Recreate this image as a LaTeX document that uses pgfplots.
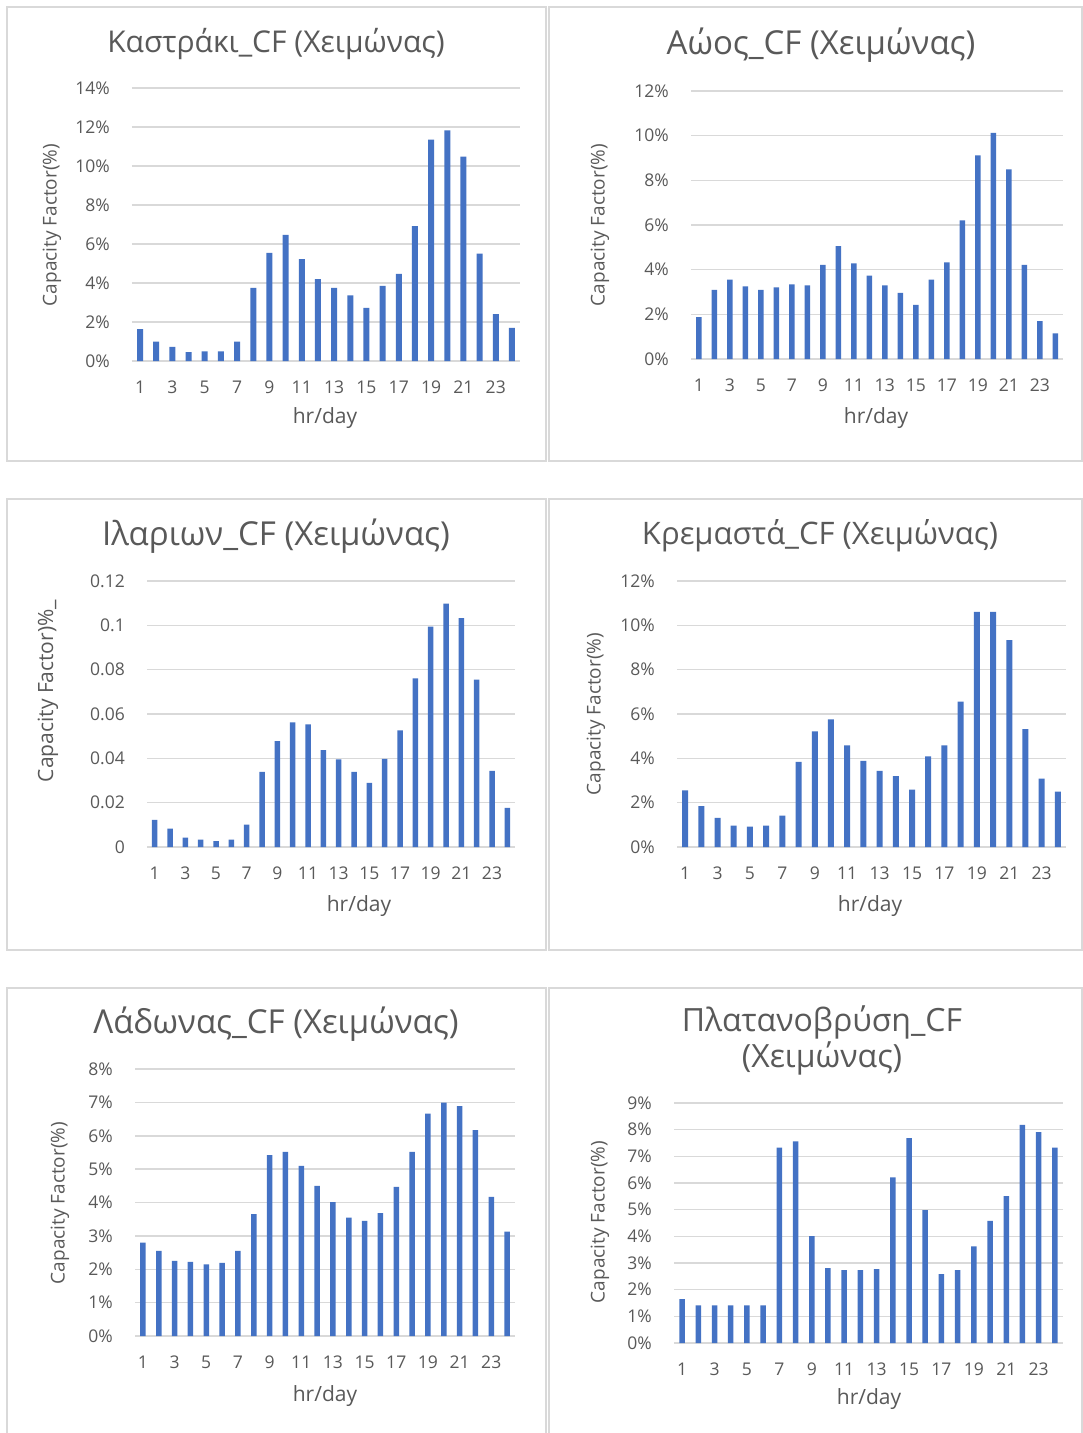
\documentclass[border=0pt]{standalone}
\usepackage{fontspec}
\setmainfont{Open Sans}
\usepackage{pgfplots}
\pgfplotsset{compat=1.18}

\definecolor{barblue}{HTML}{4472C4}
\definecolor{gridgray}{HTML}{D9D9D9}
\definecolor{txtgray}{HTML}{595959}

\newcommand{\titlefont}[1]{\fontsize{#1}{36}\selectfont}
\newcommand{\labelfont}{\fontsize{19}{22}\selectfont}
\newcommand{\hrfont}{\fontsize{21}{24}\selectfont}

\pgfplotsset{
  cf/.style={
    scale only axis,
    anchor=south west,
    ybar,
    bar width=6pt,
    xmin=0.5, xmax=24.5, ymin=0,
    enlargelimits=false,
    axis line style={draw=none},
    ymajorgrids,
    grid style={gridgray, line width=1.5pt},
    major tick length=0pt,
    xtick={1,3,...,23},
    xticklabels={1,3,5,7,9,11,13,15,17,19,21,23},
    tick label style={font=\fontsize{17.5}{20}\selectfont, text=txtgray},
    yticklabel style={inner sep=0pt, anchor=east, xshift=-22pt},
    xticklabel style={inner sep=0pt, anchor=center, yshift=-26pt},
    /pgf/number format/assume math mode=true,
    clip=false,
  },
  cfbar/.style={fill=barblue, draw=none},
}

\begin{document}
\begin{tikzpicture}[x=1pt,y=1pt]
\useasboundingbox (0,0) rectangle (1083,-1433);
\fill[white] (0,0) rectangle (1083,-1433);

% panel frames
\begin{scope}[draw=gridgray, line width=2pt]
  \draw (7,-7) rectangle (546,-461);
  \draw (549,-7) rectangle (1082,-461);
  \draw (7,-499) rectangle (546,-950);
  \draw (549,-499) rectangle (1082,-950);
  \draw (7,-1460) -- (7,-988) -- (546,-988) -- (546,-1460);
  \draw (549,-1460) -- (549,-988) -- (1082,-988) -- (1082,-1460);
\end{scope}

% Kastraki
\begin{axis}[cf, at={(132pt,-361pt)}, width=388pt, height=273pt,
  ymax=14, ytick={0,2,...,14},
  yticklabels={0\%,2\%,4\%,6\%,8\%,10\%,12\%,14\%}]
\addplot[cfbar] coordinates {
 (1,1.64) (2,0.99) (3,0.72) (4,0.45) (5,0.50) (6,0.50) (7,0.99) (8,3.75)
 (9,5.55) (10,6.47) (11,5.22) (12,4.20) (13,3.75) (14,3.37) (15,2.72) (16,3.85)
 (17,4.47) (18,6.92) (19,11.35) (20,11.83) (21,10.48) (22,5.51) (23,2.40) (24,1.70)};
\end{axis}

% Aoos
\begin{axis}[cf, at={(691pt,-359pt)}, width=372pt, height=268pt, bar width=5.5pt,
  ymax=12, ytick={0,2,...,12},
  yticklabels={0\%,2\%,4\%,6\%,8\%,10\%,12\%}]
\addplot[cfbar] coordinates {
 (1,1.88) (2,3.10) (3,3.55) (4,3.25) (5,3.10) (6,3.21) (7,3.34) (8,3.30)
 (9,4.22) (10,5.06) (11,4.28) (12,3.73) (13,3.30) (14,2.96) (15,2.42) (16,3.55)
 (17,4.33) (18,6.21) (19,9.12) (20,10.12) (21,8.49) (22,4.22) (23,1.70) (24,1.15)};
\end{axis}

% Ilarion
\begin{axis}[cf, at={(147pt,-847pt)}, width=368pt, height=266pt, bar width=5.5pt,
  ymax=0.12, ytick={0,0.02,0.04,0.06,0.08,0.10,0.12},
  yticklabels={0,0.02,0.04,0.06,0.08,0.1,0.12}]
\addplot[cfbar] coordinates {
 (1,0.0122) (2,0.0083) (3,0.0042) (4,0.0033) (5,0.0027) (6,0.0033) (7,0.0101) (8,0.0339)
 (9,0.0478) (10,0.0562) (11,0.0553) (12,0.0437) (13,0.0395) (14,0.0339) (15,0.0289) (16,0.0398)
 (17,0.0526) (18,0.0761) (19,0.0994) (20,0.1098) (21,0.1033) (22,0.0755) (23,0.0344) (24,0.0176)};
\end{axis}

% Kremasta
\begin{axis}[cf, at={(677pt,-847pt)}, width=389pt, height=266pt,
  ymax=12, ytick={0,2,...,12},
  yticklabels={0\%,2\%,4\%,6\%,8\%,10\%,12\%}]
\addplot[cfbar] coordinates {
 (1,2.55) (2,1.85) (3,1.31) (4,0.96) (5,0.92) (6,0.96) (7,1.42) (8,3.84)
 (9,5.22) (10,5.76) (11,4.58) (12,3.89) (13,3.44) (14,3.20) (15,2.59) (16,4.09)
 (17,4.58) (18,6.56) (19,10.61) (20,10.61) (21,9.33) (22,5.32) (23,3.09) (24,2.50)};
\end{axis}

% Ladonas
\begin{axis}[cf, at={(135pt,-1336pt)}, width=380pt, height=267pt, bar width=5.5pt,
  ymax=8, ytick={0,1,...,8},
  yticklabels={0\%,1\%,2\%,3\%,4\%,5\%,6\%,7\%,8\%}]
\addplot[cfbar] coordinates {
 (1,2.80) (2,2.55) (3,2.25) (4,2.22) (5,2.15) (6,2.19) (7,2.55) (8,3.65)
 (9,5.42) (10,5.52) (11,5.10) (12,4.50) (13,4.01) (14,3.55) (15,3.45) (16,3.68)
 (17,4.47) (18,5.52) (19,6.66) (20,6.99) (21,6.89) (22,6.17) (23,4.17) (24,3.13)};
\end{axis}

% Platanovrysi
\begin{axis}[cf, at={(674pt,-1343pt)}, width=389pt, height=240pt, bar width=5.5pt,
  ymax=9, ytick={0,1,...,9},
  yticklabels={0\%,1\%,2\%,3\%,4\%,5\%,6\%,7\%,8\%,9\%}]
\addplot[cfbar] coordinates {
 (1,1.65) (2,1.41) (3,1.41) (4,1.41) (5,1.41) (6,1.41) (7,7.33) (8,7.56)
 (9,4.01) (10,2.81) (11,2.73) (12,2.73) (13,2.77) (14,6.21) (15,7.68) (16,4.98)
 (17,2.58) (18,2.73) (19,3.62) (20,4.58) (21,5.51) (22,8.18) (23,7.91) (24,7.33)};
\end{axis}

% titles and axis titles
\begin{scope}[every node/.style={text=txtgray, inner sep=0pt}]
  \node[font=\titlefont{30}] at (276,-44) {Καστράκι\_CF (Χειμώνας)};
  \node[font=\titlefont{33}] at (821,-45) {Αώος\_CF (Χειμώνας)};
  \node[font=\titlefont{33}] at (276,-536) {Ιλαριων\_CF (Χειμώνας)};
  \node[font=\titlefont{31}] at (820,-536) {Κρεμαστά\_CF (Χειμώνας)};
  \node[font=\titlefont{33}] at (276,-1024) {Λάδωνας\_CF (Χειμώνας)};
  \node[font=\titlefont{32}, align=center] at (822,-1040) {Πλατανοβρύση\_CF\\(Χειμώνας)};

  \node[font=\hrfont] at (325,-418) {hr/day};
  \node[font=\hrfont] at (876,-418) {hr/day};
  \node[font=\hrfont] at (359,-906) {hr/day};
  \node[font=\hrfont] at (870,-906) {hr/day};
  \node[font=\hrfont] at (325,-1396) {hr/day};
  \node[font=\hrfont] at (869,-1399) {hr/day};

  \node[font=\labelfont, rotate=90] at (52,-225) {Capacity Factor(\%)};
  \node[font=\labelfont, rotate=90] at (600,-225) {Capacity Factor(\%)};
  \node[font=\fontsize{21}{24}\selectfont, rotate=90] at (48,-691) {Capacity Factor)\%\_};
  \node[font=\labelfont, rotate=90] at (596,-714) {Capacity Factor(\%)};
  \node[font=\labelfont, rotate=90] at (60,-1203) {Capacity Factor(\%)};
  \node[font=\labelfont, rotate=90] at (600,-1222) {Capacity Factor(\%)};
\end{scope}
\end{tikzpicture}
\end{document}
